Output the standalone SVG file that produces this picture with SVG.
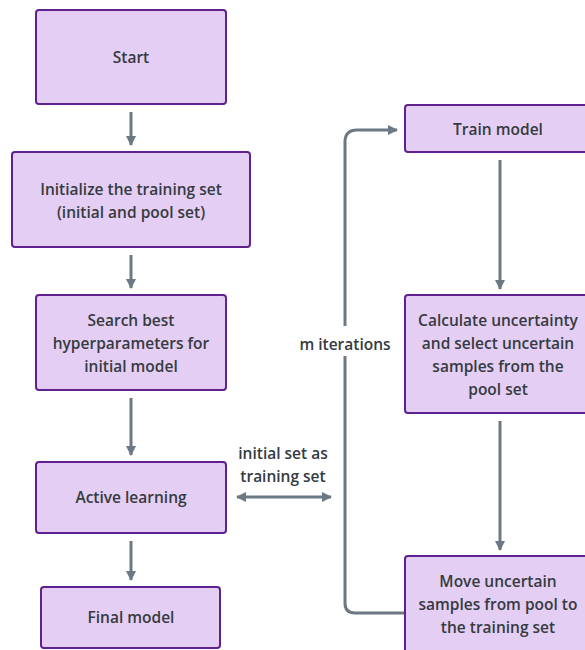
<svg xmlns="http://www.w3.org/2000/svg" width="585" height="650" viewBox="0 0 585 650">
<defs>
<style>
.box{fill:#e4cef4;stroke:#5f2190;stroke-width:2}
.t{font-family:"Open Sans","Liberation Sans",sans-serif;font-size:15.5px;font-weight:600;fill:#353b40;text-anchor:middle}
.c{fill:none;stroke:#6c7984;stroke-width:3}
</style>
<marker id="ah" viewBox="0 0 10 10" refX="9" refY="5" markerWidth="3.4" markerHeight="3.4" orient="auto-start-reverse">
<path d="M0,0 L10,5 L0,10 z" fill="#6c7984"/>
</marker>
</defs>
<rect width="585" height="650" fill="#ffffff"/>
<g id="connectors">
<line class="c" x1="131" y1="112" x2="131" y2="145" marker-end="url(#ah)"/>
<line class="c" x1="131" y1="255" x2="131" y2="288" marker-end="url(#ah)"/>
<line class="c" x1="131" y1="398" x2="131" y2="455" marker-end="url(#ah)"/>
<line class="c" x1="131" y1="541" x2="131" y2="580" marker-end="url(#ah)"/>
<line class="c" x1="500" y1="160" x2="500" y2="289" marker-end="url(#ah)"/>
<line class="c" x1="500" y1="421" x2="500" y2="550" marker-end="url(#ah)"/>
<line class="c" x1="237" y1="497" x2="331" y2="497" marker-start="url(#ah)" marker-end="url(#ah)"/>
<path class="c" d="M345,326 L345,142 Q345,130 357,130 L397,130" marker-end="url(#ah)"/>
<path class="c" d="M345,356 L345,603 Q345,613 355,613 L404,613"/>
<text class="t" x="345" y="350">m iterations</text>
<text class="t" x="283" y="459">initial set as</text>
<text class="t" x="283" y="482">training set</text>
</g>
<g id="start"><rect class="box" x="36" y="10" width="190" height="94" rx="3"/><text class="t" x="131" y="63">Start</text></g>
<g id="init"><rect class="box" x="12" y="152" width="238" height="95" rx="3"/><text class="t" x="131" y="195">Initialize the training set</text><text class="t" x="131" y="218">(initial and pool set)</text></g>
<g id="search"><rect class="box" x="36" y="295" width="190" height="95" rx="3"/><text class="t" x="131" y="326">Search best</text><text class="t" x="131" y="349">hyperparameters for</text><text class="t" x="131" y="372">initial model</text></g>
<g id="active"><rect class="box" x="36" y="462" width="190" height="71" rx="3"/><text class="t" x="131" y="503">Active learning</text></g>
<g id="final"><rect class="box" x="41" y="587" width="179" height="61" rx="3"/><text class="t" x="131" y="623">Final model</text></g>
<g id="train"><rect class="box" x="405" y="105" width="186" height="47" rx="3"/><text class="t" x="498" y="135">Train  model</text></g>
<g id="calc"><rect class="box" x="405" y="295" width="186" height="118" rx="3"/><text class="t" x="498" y="326">Calculate uncertainty</text><text class="t" x="498" y="349">and select uncertain</text><text class="t" x="498" y="372">samples from the</text><text class="t" x="498" y="395">pool set</text></g>
<g id="move"><rect class="box" x="405" y="556" width="186" height="100" rx="3"/><text class="t" x="498" y="587">Move uncertain</text><text class="t" x="498" y="610">samples from pool to</text><text class="t" x="498" y="633">the training set</text></g>
</svg>
